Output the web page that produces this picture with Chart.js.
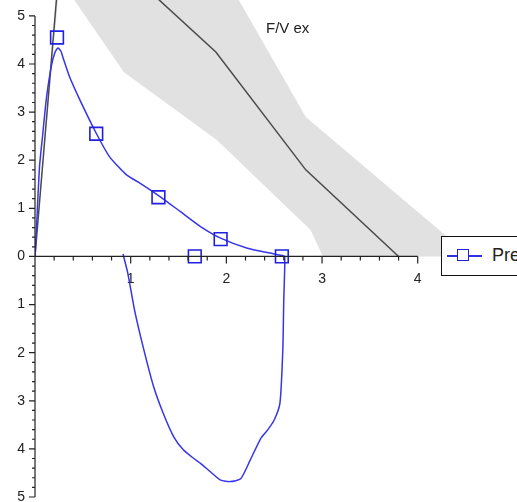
<!DOCTYPE html>
<html>
<head>
<meta charset="utf-8">
<script src="https://cdn.jsdelivr.net/npm/chart.js@4.4.1/dist/chart.umd.min.js"></script>
<style>
  html, body { margin: 0; padding: 0; background: #fff; }
  #wrap { position: relative; width: 517px; height: 502px; overflow: hidden; }
  #title { position: absolute; left: 266px; top: 19px; font: 15px "Liberation Sans", Arial, sans-serif; color: #222; }
  #legend { position: absolute; left: 441px; top: 236px; width: 100px; height: 40px; box-sizing: border-box;
            border: 1.5px solid #111; background: #fff; font: 18px "Liberation Sans", Arial, sans-serif; color: #222; }
  #legend .ln { position: absolute; left: 5px; top: 18px; width: 35px; height: 1.5px; background: #3030e8; }
  #legend .sq { position: absolute; left: 15px; top: 12px; width: 10px; height: 10px; border: 1.5px solid #2020e0; background: #fff; }
  #legend .tx { position: absolute; left: 50px; top: 8px; line-height: 20px; }
</style>
</head>
<body>
<div id="wrap">
  <canvas id="fv"></canvas>
  <div id="title">F/V ex</div>
  <div id="legend"><div class="ln"></div><div class="sq"></div><div class="tx">Pre</div></div>
</div>
<script>
  // volume (L) / flow (L/s) of the measured loop, expiration then inspiration
  const loopVolume = [0, 0.013, 0.047, 0.082, 0.117, 0.17, 0.21, 0.24, 0.27, 0.29, 0.36, 0.47, 0.64, 0.78, 0.96, 1.10, 1.31, 1.52, 1.73, 1.94, 2.22, 2.46, 2.58, 2.61,
                      2.60, 2.59, 2.56, 2.50, 2.43, 2.36, 2.25, 2.15, 2.04, 1.94, 1.83, 1.73, 1.66, 1.55, 1.45, 1.34, 1.24, 1.13, 1.04, 0.97, 0.92];
  const loopFlow = [0, 0.48, 1.86, 2.56, 3.25, 3.95, 4.25, 4.33, 4.27, 4.15, 3.74, 3.25, 2.56, 2.07, 1.69, 1.52, 1.24, 0.93, 0.62, 0.38, 0.17, 0.07, 0.02, 0,
                    -0.90, -1.94, -3.05, -3.40, -3.61, -3.78, -4.23, -4.62, -4.68, -4.65, -4.47, -4.30, -4.20, -4.02, -3.75, -3.26, -2.71, -1.88, -1.11, -0.35, 0.05];

  // square markers
  const markVolume = [0.23, 0.64, 1.29, 1.94, 1.67, 2.58];
  const markFlow = [4.55, 2.55, 1.23, 0.36, 0, 0];

  // predicted curve and its range
  const predVolume = [0, 0.30, 1.89, 2.83, 3.80];
  const predFlow = [0, 7.15, 4.25, 1.80, 0];
  const bandVolume = [0, 0.50, 2.13, 2.83, 4.55, 3.01, 2.88, 1.90, 0.93, 0.41, 0.242, 0];
  const bandFlow = [0, 11.1, 5.33, 2.90, 0, 0, 0.55, 2.42, 3.83, 5.33, 5.81, 0];

  const xTickValues = [1, 2, 3, 4];
  const yTickValues = [-5, -4, -3, -2, -1, 0, 1, 2, 3, 4, 5];

  const FONT = '"Liberation Sans", Arial, sans-serif';
  const pts = (xs, ys) => xs.map((x, i) => ({ x: x, y: ys[i] }));

  // axis lines and ticks through the origin
  const axesPlugin = {
    id: 'axesPlugin',
    afterDatasetsDraw(chart) {
      const ctx = chart.ctx;
      const x = chart.scales.x, y = chart.scales.y;
      const x0 = x.getPixelForValue(0), y0 = y.getPixelForValue(0);
      ctx.save();
      ctx.strokeStyle = '#222';
      ctx.lineWidth = 1.2;
      ctx.beginPath();
      ctx.moveTo(x0, y.getPixelForValue(5));
      ctx.lineTo(x0, y.getPixelForValue(-5));
      ctx.moveTo(x0, y0);
      ctx.lineTo(x.getPixelForValue(4), y0);
      for (let i = 1; i <= 20; i++) {
        const px = x.getPixelForValue(i * 0.2);
        const len = i % 5 === 0 ? 7 : 4;
        ctx.moveTo(px, y0);
        ctx.lineTo(px, y0 + len);
      }
      for (let i = -25; i <= 25; i++) {
        const py = y.getPixelForValue(i * 0.2);
        const len = i % 5 === 0 ? 6 : 3;
        ctx.moveTo(x0 - len, py);
        ctx.lineTo(x0, py);
      }
      ctx.stroke();
      ctx.restore();
    }
  };

  new Chart(document.getElementById('fv'), {
    type: 'scatter',
    data: {
      datasets: [
        { label: 'marks', data: pts(markVolume, markFlow), showLine: false, pointStyle: 'rect', pointRadius: 9,
          pointBorderWidth: 1.6, pointBorderColor: '#2020e0', pointBackgroundColor: 'rgba(0,0,0,0)' },
        { label: 'Pre', data: pts(loopVolume, loopFlow), showLine: true, tension: 0.2, borderColor: '#3535ea',
          borderWidth: 1.5, pointRadius: 0 },
        { label: 'pred', data: pts(predVolume, predFlow), showLine: true, tension: 0, borderColor: '#4a4a4a',
          borderWidth: 1.5, pointRadius: 0 },
        { label: 'range', data: pts(bandVolume, bandFlow), showLine: true, tension: 0, borderWidth: 0,
          borderColor: 'rgba(0,0,0,0)', backgroundColor: '#e1e1e1', fill: 'shape', pointRadius: 0 }
      ]
    },
    options: {
      responsive: true,
      maintainAspectRatio: false,
      animation: false,
      layout: { autoPadding: false, padding: { left: 0, right: 61, top: 0, bottom: 5 } },
      plugins: { legend: { display: false }, tooltip: { enabled: false } },
      scales: {
        x: {
          type: 'linear', min: 0, max: 4.4, position: { y: 0 },
          grid: { display: false, drawTicks: false }, border: { display: false },
          afterBuildTicks: s => { s.ticks = xTickValues.map(v => ({ value: v })); },
          afterFit: s => { s.paddingLeft = 0; s.paddingRight = 0; },
          ticks: { font: { size: 14, family: FONT }, color: '#222', padding: 14, maxRotation: 0, autoSkip: false }
        },
        y: {
          type: 'linear', min: -5, max: 5.33,
          grid: { display: false, drawTicks: false }, border: { display: false },
          afterBuildTicks: s => { s.ticks = yTickValues.map(v => ({ value: v })); },
          afterFit: s => { s.width = 35; s.paddingTop = 0; s.paddingBottom = 0; },
          ticks: { font: { size: 14, family: FONT }, color: '#222', padding: 10, autoSkip: false,
                   callback: v => String(Math.abs(v)) }
        }
      }
    },
    plugins: [axesPlugin]
  });
</script>
</body>
</html>
